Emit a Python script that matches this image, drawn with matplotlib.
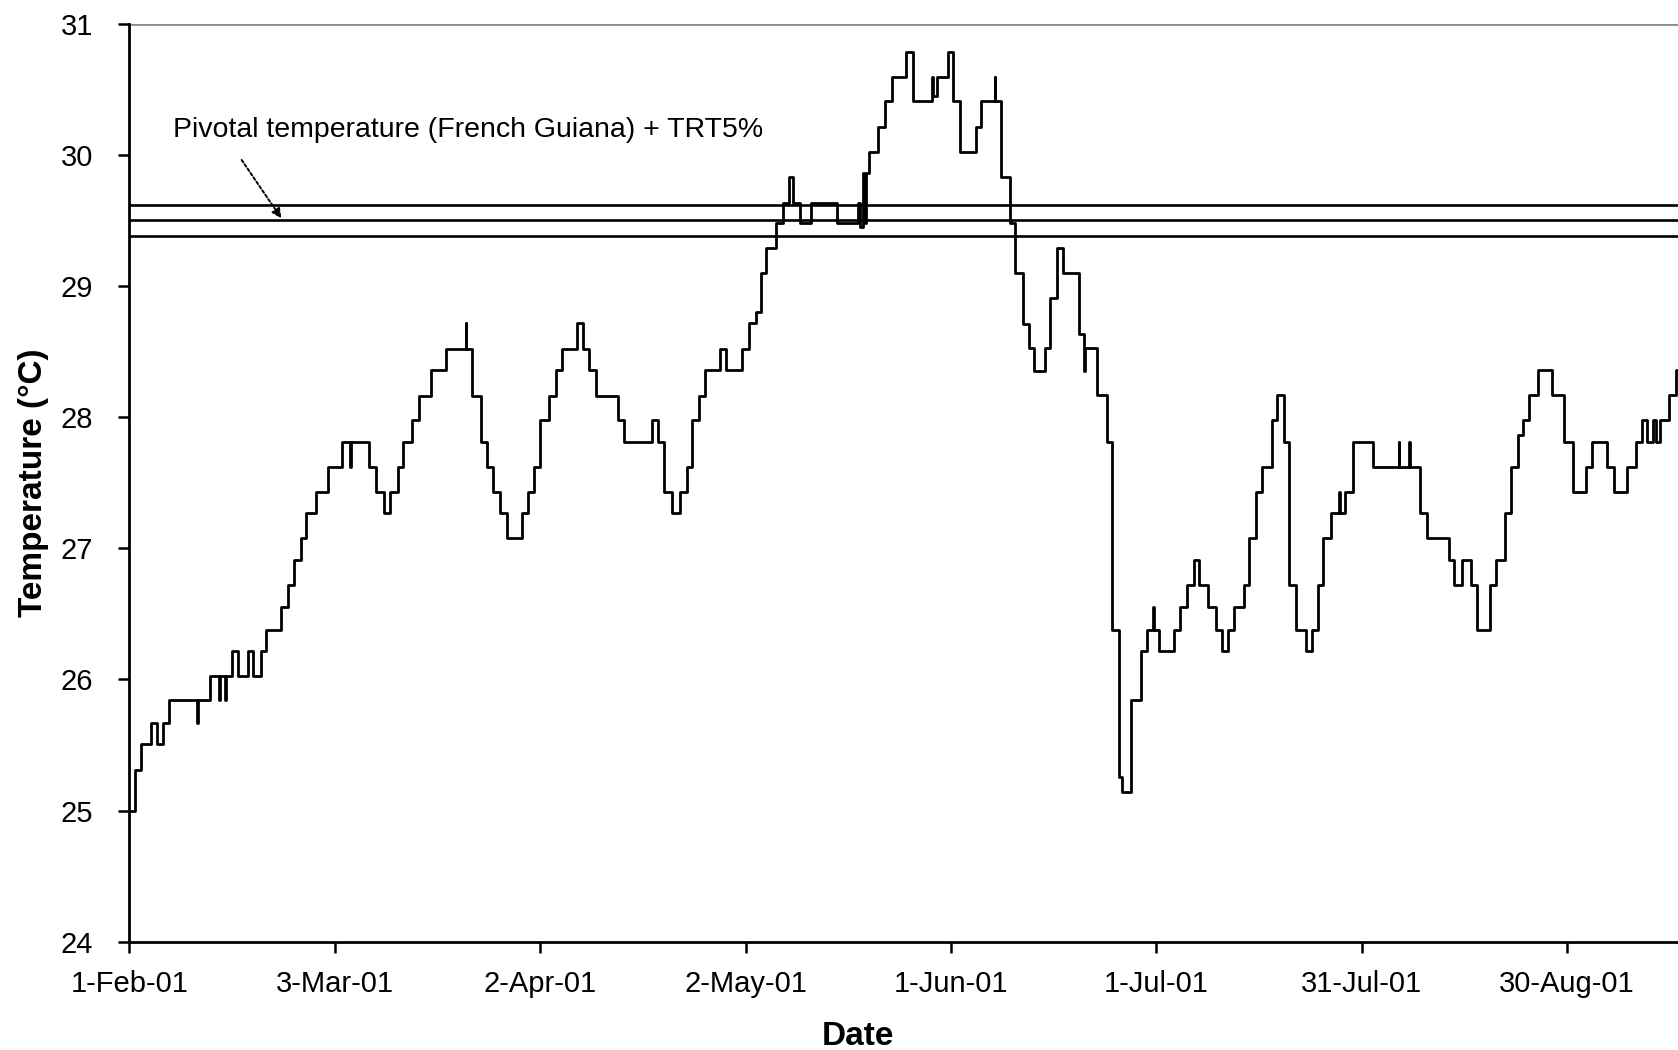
import numpy as np
import matplotlib
matplotlib.use('Agg')
import matplotlib.pyplot as plt

plt.rcParams['font.family'] = ['Liberation Sans', 'DejaVu Sans']

# logger record: day since 1-Feb-01 where the reading changes, and the new reading (degC)
days = [0, 0.8, 1.7, 3.1, 4.0, 4.9, 5.8, 9.9, 10.0, 11.8, 13.1, 13.2, 14.0, 14.1,
        15.0, 15.9, 17.3, 18.1, 19.2, 19.9, 22.2, 23.2, 24.1, 25.0, 25.8, 27.2,
        29.0, 31.0, 32.2, 32.3, 35.0, 36.0, 37.2, 38.0, 39.2, 40.0, 41.3, 42.3,
        44.0, 46.3, 49.1, 49.2, 50.0, 51.4, 52.3, 53.1, 54.1, 55.1, 57.3, 58.2,
        59.1, 60.0, 61.3, 62.3, 63.2, 65.4, 66.3, 67.2, 68.1, 71.4, 72.2, 76.3,
        77.2, 78.1, 79.2, 80.4, 81.4, 82.2, 83.2, 84.1, 86.2, 87.2, 89.5, 90.5,
        91.5, 92.3, 93.0, 94.5, 95.4, 96.3, 97.0, 98.0, 99.5, 103.3, 106.4, 106.7,
        107.1, 107.3, 107.6, 108.0, 109.3, 110.4, 111.4, 113.5, 114.4, 117.3,
        117.4, 118.0, 119.5, 120.3, 121.3, 123.7, 124.4, 126.4, 126.5, 127.3,
        128.6, 129.4, 130.6, 131.4, 132.2, 133.7, 134.4, 135.5, 136.4, 138.7,
        139.5, 139.6, 141.3, 142.8, 143.6, 144.5, 145.0, 146.3, 147.7, 148.6,
        149.5, 149.6, 150.4, 152.6, 153.5, 154.5, 155.5, 156.3, 157.6, 158.7,
        159.6, 160.4, 161.3, 162.8, 163.6, 164.5, 165.4, 166.9, 167.7, 168.6,
        169.4, 170.4, 171.8, 172.7, 173.6, 174.4, 175.5, 176.7, 176.8, 177.6,
        178.7, 181.7, 185.4, 185.5, 186.9, 187.0, 188.5, 189.5, 192.7, 193.5,
        194.7, 196.0, 196.8, 198.7, 199.6, 200.9, 201.8, 202.8, 203.6, 204.5,
        205.8, 207.8, 209.5, 210.9, 212.7, 213.6, 215.9, 216.8, 218.7, 220.0,
        220.9, 221.7, 222.6, 223.0, 223.6, 224.9, 225.9, 226.2]
temps = [25.00, 25.31, 25.51, 25.67, 25.51, 25.67, 25.84, 25.67, 25.84, 26.03, 25.84, 26.03, 25.84, 26.03,
         26.22, 26.03, 26.22, 26.03, 26.22, 26.38, 26.55, 26.72, 26.91, 27.08, 27.27, 27.43,
         27.62, 27.81, 27.62, 27.81, 27.62, 27.43, 27.27, 27.43, 27.62, 27.81, 27.98, 28.16,
         28.36, 28.52, 28.72, 28.52, 28.16, 27.81, 27.62, 27.43, 27.27, 27.08, 27.27, 27.43,
         27.62, 27.98, 28.16, 28.36, 28.52, 28.72, 28.52, 28.36, 28.16, 27.98, 27.81, 27.98,
         27.81, 27.43, 27.27, 27.43, 27.62, 27.98, 28.16, 28.36, 28.52, 28.36, 28.52, 28.72,
         28.80, 29.10, 29.29, 29.48, 29.63, 29.83, 29.63, 29.48, 29.63, 29.48, 29.63, 29.45,
         29.86, 29.48, 29.86, 30.02, 30.21, 30.41, 30.59, 30.785, 30.41, 30.59,
         30.45, 30.59, 30.785, 30.41, 30.02, 30.21, 30.41, 30.59, 30.41, 29.83,
         29.48, 29.10, 28.71, 28.53, 28.35, 28.53, 28.91, 29.29, 29.10, 28.63,
         28.35, 28.53, 28.17, 27.81, 26.38, 25.26, 25.14, 25.84, 26.22, 26.38,
         26.55, 26.38, 26.22, 26.38, 26.55, 26.72, 26.91, 26.72, 26.55, 26.38,
         26.22, 26.38, 26.55, 26.72, 27.08, 27.43, 27.62, 27.98, 28.17, 27.81,
         26.72, 26.38, 26.22, 26.38, 26.72, 27.08, 27.27, 27.43, 27.27, 27.43,
         27.81, 27.62, 27.81, 27.62, 27.81, 27.62, 27.27, 27.08, 26.91, 26.72,
         26.91, 26.72, 26.38, 26.72, 26.91, 27.27, 27.62, 27.86, 27.98, 28.17,
         28.36, 28.17, 27.81, 27.43, 27.62, 27.81, 27.62, 27.43, 27.62, 27.81,
         27.98, 27.81, 27.98, 27.81, 27.98, 28.17, 28.36, 28.36]

pivotal = [29.62, 29.50, 29.38]

tick_days = [0, 30, 60, 90, 120, 150, 180, 210]
tick_labels = ['1-Feb-01', '3-Mar-01', '2-Apr-01', '2-May-01', '1-Jun-01',
               '1-Jul-01', '31-Jul-01', '30-Aug-01']

fig = plt.figure(figsize=(16.78, 10.5), dpi=100)
ax = fig.add_axes([0.0771, 0.1030, 0.9229, 0.8746])

ax.step(days, temps, where='post', color='k', lw=2.0, zorder=3)
for t in pivotal:
    ax.axhline(t, color='k', lw=1.9, zorder=2)
ax.axhline(31, color='#8c8c8c', lw=2.0, zorder=1)

ax.text(6.4, 30.19, 'Pivotal temperature (French Guiana) + TRT5%', fontsize=20.5,
        va='center', ha='left')
ax.annotate('', xy=(22.2, 29.515), xytext=(16.4, 29.96),
            arrowprops=dict(arrowstyle='-|>', color='k', lw=1.4, linestyle=(0, (1.5, 1.2)),
                            shrinkA=0, shrinkB=0, mutation_scale=14))

ax.set_xlim(0, 226.2)
ax.set_ylim(24, 31)
ax.set_xticks(tick_days)
ax.set_xticklabels(tick_labels)
ax.set_yticks(range(24, 32))

for side in ['top', 'right']:
    ax.spines[side].set_visible(False)
for side in ['left', 'bottom']:
    ax.spines[side].set_linewidth(2.0)
ax.tick_params(axis='both', direction='out', length=8, width=1.8, labelsize=21)
ax.tick_params(axis='y', pad=18)
ax.tick_params(axis='x', pad=12)

ax.set_xlabel('Date', fontsize=24, fontweight='bold')
ax.set_ylabel('Temperature (°C)', fontsize=24, fontweight='bold')
ax.xaxis.set_label_coords(0.4705, -0.0862)
ax.yaxis.set_label_coords(-0.0517, 0.5)

plt.savefig('out.png', dpi=100)
